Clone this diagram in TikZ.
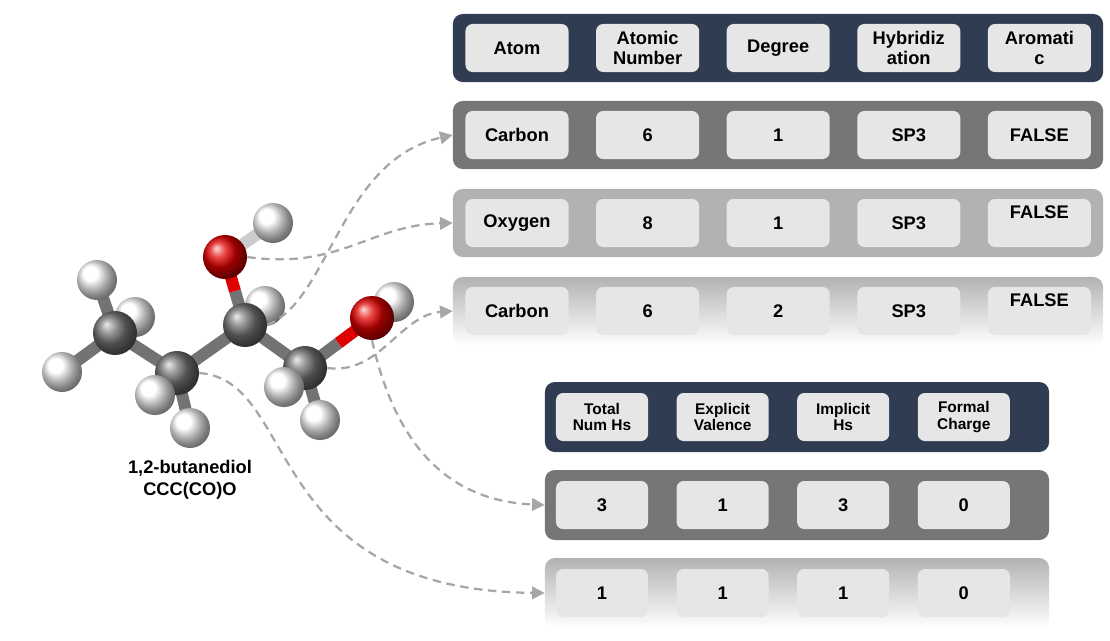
\documentclass[tikz,border=0pt]{standalone}
\usepackage{fontspec}
\setmainfont{Liberation Sans}
\usetikzlibrary{positioning,arrows.meta,shadings,calc}
\definecolor{navy}{HTML}{2F3C51}
\definecolor{cellgray}{HTML}{E6E6E6}
\definecolor{rowdark}{HTML}{777575}
\definecolor{rowmid}{HTML}{B2B2B2}
\definecolor{atomred}{HTML}{E00000}
\tikzstyle{cell} = [rectangle, rounded corners=5pt, fill=cellgray, minimum width=2.575cm, minimum height=1.2cm, align=center, font=\fontsize{13}{14}\selectfont\bfseries, inner sep=1pt]
\tikzstyle{smallcell} = [cell, minimum width=2.3cm, font=\fontsize{11}{12}\selectfont\bfseries]
\tikzstyle{rowbox} = [rectangle, rounded corners=7pt, minimum height=1.7cm]
\tikzstyle{link} = [draw=black!35, line width=1.6pt, dash pattern=on 6pt off 4pt, -{Triangle[length=9pt,width=9pt]}]
\tikzstyle{hyd} = [circle, ball color=white, minimum size=1.0cm, inner sep=0pt]
\tikzstyle{carb} = [circle, ball color=black!55, minimum size=1.1cm, inner sep=0pt]
\tikzstyle{oxy} = [circle, ball color=atomred, minimum size=1.1cm, inner sep=0pt]
\tikzstyle{bond} = [line width=0.3cm, draw=black!55]
\begin{document}
\begin{tikzpicture}[x=0.025cm, y=-0.025cm]
		\useasboundingbox (0,0) rectangle (1110,640);
		% first table
		\node[rowbox, fill=navy, minimum width=16.25cm] (head1) at (778,48) {};
		\node[rowbox, fill=rowdark, minimum width=16.25cm] (row1) at (778,135) {};
		\node[rowbox, fill=rowmid, minimum width=16.25cm] (row2) at (778,223) {};
		\node[rowbox, top color=black!30, bottom color=white, minimum width=16.25cm] (row3) at (778,311) {};
		
		\node[cell] (hAtom) at (517,48) {Atom};
		\node[cell, right=0.675cm of hAtom] (hNum) {Atomic\\Number};
		\node[cell, right=0.675cm of hNum] (hDeg) {Degree};
		\node[cell, right=0.675cm of hDeg] (hHyb) {Hybridiz\\ation};
		\node[cell, right=0.675cm of hHyb] (hAro) {Aromati\\c};
		
		\node[cell] (a1) at (517,135) {Carbon};
		\node[cell, right=0.675cm of a1] (n1) {6};
		\node[cell, right=0.675cm of n1] (d1) {1};
		\node[cell, right=0.675cm of d1] (y1) {SP3};
		\node[cell, right=0.675cm of y1] (r1) {FALSE};
		
		\node[cell] (a2) at (517,223) {Oxygen};
		\node[cell, right=0.675cm of a2] (n2) {8};
		\node[cell, right=0.675cm of n2] (d2) {1};
		\node[cell, right=0.675cm of d2] (y2) {SP3};
		\node[cell, right=0.675cm of y2, text depth=0.55cm] (r2) {FALSE};
		
		\node[cell] (a3) at (517,311) {Carbon};
		\node[cell, right=0.675cm of a3] (n3) {6};
		\node[cell, right=0.675cm of n3] (d3) {2};
		\node[cell, right=0.675cm of d3] (y3) {SP3};
		\node[cell, right=0.675cm of y3, text depth=0.55cm] (r3) {FALSE};
		
		% second table
		\node[rowbox, fill=navy, minimum width=12.6cm, minimum height=1.75cm] (head2) at (797,417) {};
		\node[rowbox, fill=rowdark, minimum width=12.6cm, minimum height=1.75cm] (row4) at (797,505) {};
		\node[rowbox, top color=black!30, bottom color=white, minimum width=12.6cm, minimum height=1.75cm] (row5) at (797,593) {};
		
		\node[smallcell] (hTot) at (602,417) {Total\\Num Hs};
		\node[smallcell, right=0.7cm of hTot] (hExp) {Explicit\\Valence};
		\node[smallcell, right=0.7cm of hExp] (hImp) {Implicit\\Hs};
		\node[smallcell, right=0.7cm of hImp] (hFor) {Formal\\Charge};
		
		\node[smallcell, font=\fontsize{13}{14}\selectfont\bfseries] (t4) at (602,505) {3};
		\node[smallcell, font=\fontsize{13}{14}\selectfont\bfseries, right=0.7cm of t4] (e4) {1};
		\node[smallcell, font=\fontsize{13}{14}\selectfont\bfseries, right=0.7cm of e4] (i4) {3};
		\node[smallcell, font=\fontsize{13}{14}\selectfont\bfseries, right=0.7cm of i4] (f4) {0};
		
		\node[smallcell, font=\fontsize{13}{14}\selectfont\bfseries] (t5) at (602,593) {1};
		\node[smallcell, font=\fontsize{13}{14}\selectfont\bfseries, right=0.7cm of t5] (e5) {1};
		\node[smallcell, font=\fontsize{13}{14}\selectfont\bfseries, right=0.7cm of e5] (i5) {1};
		\node[smallcell, font=\fontsize{13}{14}\selectfont\bfseries, right=0.7cm of i5] (f5) {0};
		
		% molecule, back atoms first
		\coordinate (posC4) at (115,333);
		\coordinate (posC3) at (177,373);
		\coordinate (posC2) at (245,325);
		\coordinate (posC1) at (305,368);
		\coordinate (posO1) at (225,257);
		\coordinate (posO2) at (372,318);
		\node[hyd] (hC2) at (265,306) {};
		\node[hyd] (hO2) at (394,302) {};
		\node[hyd] (hC4b) at (135,317) {};
		\draw[bond] (posC4) -- (posC3) -- (posC2) -- (posC1);
		\draw[bond] (posC4) -- (97,280);
		\draw[bond] (posC4) -- (62,372);
		\draw[bond] (posC3) -- (190,428);
		\draw[bond] (posC1) -- (320,420);
		\draw[bond] (posC2) -- ($(posC2)!0.5!(posO1)$);
		\draw[bond, draw=atomred] ($(posC2)!0.5!(posO1)$) -- (posO1);
		\draw[bond, draw=white!80!black] (posO1) -- (273,223);
		\draw[bond] (posC1) -- ($(posC1)!0.5!(posO2)$);
		\draw[bond, draw=atomred] ($(posC1)!0.5!(posO2)$) -- (posO2);
		\node[hyd] (hO1) at (273,223) {};
		\node[hyd] (hC4a) at (97,280) {};
		\node[hyd] (hC4c) at (62,372) {};
		\node[carb] (C4) at (posC4) {};
		\node[carb] (C3) at (posC3) {};
		\node[hyd] (hC3a) at (155,395) {};
		\node[hyd] (hC3b) at (190,428) {};
		\node[carb] (C2) at (posC2) {};
		\node[oxy] (O1) at (posO1) {};
		\node[hyd] (hC1b) at (320,420) {};
		\node[carb] (C1) at (posC1) {};
		\node[hyd] (hC1a) at (284,387) {};
		\node[oxy] (O2) at (posO2) {};
		
		\node[font=\fontsize{13}{16}\selectfont\bfseries, align=center] (name) at (190,480) {1,2-butanediol\\CCC(CO)O};
		
		% links atom -> features
		\path[link] (C2.east) .. controls (330,300) and (340,160) .. (row1.west);
		\path[link] (O1.east) .. controls (340,270) and (370,225) .. (row2.west);
		\path[link] (C1.east) .. controls (380,375) and (400,315) .. (row3.west);
		\path[link] (O2.south) .. controls (390,420) and (430,500) .. (row4.west);
		\path[link] (C3.east) .. controls (300,380) and (260,590) .. (row5.west);
		\end{tikzpicture}
\end{document}
